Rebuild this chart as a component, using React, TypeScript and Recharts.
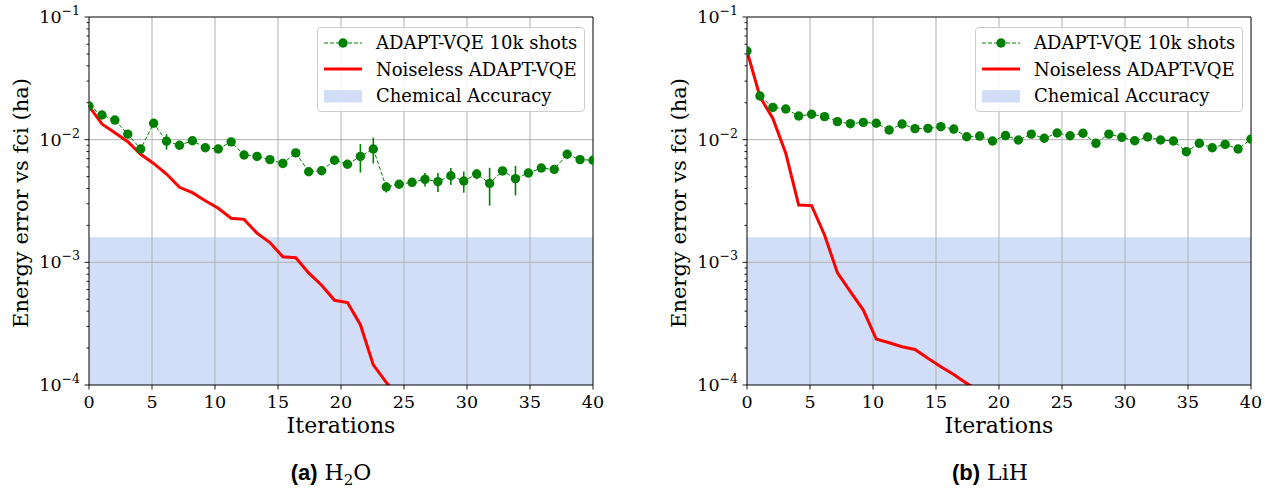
import React from "react";
import {
  ComposedChart,
  Line,
  XAxis,
  YAxis,
  ErrorBar,
  ReferenceArea,
  ReferenceLine,
  Legend,
} from "recharts";

// iteration index positions (40 evaluations spread over 0..40)
const iterations = Array.from({ length: 40 }, (_, i) => (i * 40) / 39);

const h2oShots = [
  0.0188, 0.0159, 0.01445, 0.0111, 0.0084, 0.0136, 0.0097, 0.009, 0.0098, 0.0086,
  0.0084, 0.0096, 0.0075, 0.0073, 0.00687, 0.0064, 0.0078, 0.00548, 0.00558, 0.0068,
  0.0063, 0.0073, 0.0084, 0.00411, 0.00433, 0.00449, 0.00475, 0.00455, 0.00508, 0.0046,
  0.00525, 0.0044, 0.00556, 0.00481, 0.00535, 0.00587, 0.00573, 0.0076, 0.00687, 0.0068,
];
const h2oShotsErr = [
  0.0004, 0.0004, 0.0004, 0.0003, 0.0004, 0.0005, 0.0014, 0.0003, 0.0004, 0.0003,
  0.0003, 0.0004, 0.0003, 0.0003, 0.0003, 0.0003, 0.0003, 0.0003, 0.0003, 0.0003,
  0.0003, 0.0019, 0.002, 0.0004, 0.0003, 0.0003, 0.0006, 0.0008, 0.0008, 0.0009,
  0.0005, 0.0015, 0.0003, 0.0013, 0.0004, 0.0003, 0.0003, 0.0003, 0.0003, 0.0003,
];
const h2oNoiseless = [
  0.0187, 0.01342, 0.0114, 0.00963, 0.0076, 0.0064, 0.00525, 0.00409, 0.0037, 0.00318,
  0.00276, 0.00229, 0.00224, 0.00173, 0.00145, 0.00111, 0.00109, 0.00082, 0.00065, 0.00049,
  0.00047, 0.00031, 0.000146, 0.000105, 0.00008,
];

const lihShots = [
  0.0528, 0.0227, 0.01835, 0.0178, 0.0156, 0.0161, 0.0154, 0.01403, 0.0135, 0.01384,
  0.0136, 0.012, 0.01342, 0.0123, 0.01237, 0.01276, 0.0122, 0.01057, 0.0107, 0.00976,
  0.0108, 0.00994, 0.0111, 0.01026, 0.01133, 0.01077, 0.01127, 0.00934, 0.0111, 0.01045,
  0.0098, 0.01052, 0.00994, 0.00976, 0.00798, 0.00934, 0.0086, 0.00916, 0.0084, 0.0101,
];
const lihShotsErr = [
  0.0006, 0.0005, 0.0004, 0.0004, 0.0004, 0.0004, 0.0004, 0.0004, 0.0004, 0.0004,
  0.0004, 0.0006, 0.0004, 0.0006, 0.0004, 0.0004, 0.0006, 0.0004, 0.0004, 0.0004,
  0.0004, 0.0004, 0.0004, 0.0004, 0.0004, 0.0004, 0.0004, 0.0004, 0.0004, 0.0004,
  0.0004, 0.0004, 0.0004, 0.0004, 0.0004, 0.0004, 0.0004, 0.0004, 0.0004, 0.0004,
];
const lihNoiseless = [
  0.0528, 0.0224, 0.0149, 0.00774, 0.00293, 0.0029, 0.00167, 0.00082, 0.000577, 0.000408,
  0.000237, 0.000221, 0.000205, 0.000195, 0.000165, 0.000141, 0.000122, 0.000103, 0.00009,
];

const chemicalAccuracy = 0.0016;
const xTicks = [0, 5, 10, 15, 20, 25, 30, 35, 40];
const xGrid = [5, 10, 15, 20, 25, 30, 35];
const yMajor = [1e-4, 1e-3, 1e-2, 1e-1];
const yTicks = [
  1e-4, 2e-4, 3e-4, 4e-4, 5e-4, 6e-4, 7e-4, 8e-4, 9e-4,
  1e-3, 2e-3, 3e-3, 4e-3, 5e-3, 6e-3, 7e-3, 8e-3, 9e-3,
  1e-2, 2e-2, 3e-2, 4e-2, 5e-2, 6e-2, 7e-2, 8e-2, 9e-2, 1e-1,
];
const seriesNames = ["ADAPT-VQE 10k shots", "Noiseless ADAPT-VQE", "Chemical Accuracy"];

const FONT = "'DejaVu Serif', serif";
const GREEN = "#008000";
const RED = "#ff0000";
const BAND = "#d2def7";
const GRID = "#b0b0b0";

const YTick = (props: any) => {
  const { x, y, payload } = props;
  const v = payload.value;
  const exp = Math.round(Math.log10(v));
  const major = yMajor.some((m) => Math.abs(m - v) / m < 1e-6);
  return (
    <g>
      <line x1={x - (major ? 4.5 : 2.5)} x2={x} y1={y} y2={y} stroke="#000" strokeWidth={0.9} />
      {major && (
        <text x={x - 9} y={y + 6} textAnchor="end" fontFamily={FONT} fontSize={17.5} fill="#000">
          10
          <tspan dy={-8} fontSize={12.5}>
            {"\u2212" + Math.abs(exp)}
          </tspan>
        </text>
      )}
    </g>
  );
};

const XTick = (props: any) => {
  const { x, y, payload } = props;
  return (
    <g>
      <line x1={x} x2={x} y1={y} y2={y + 4.5} stroke="#000" strokeWidth={0.9} />
      <text x={x} y={y + 23} textAnchor="middle" fontFamily={FONT} fontSize={17.5} fill="#000">
        {payload.value}
      </text>
    </g>
  );
};

const YLabel = () => (
  <text
    x={27.5}
    y={203}
    transform="rotate(-90, 27.5, 203)"
    textAnchor="middle"
    fontFamily={FONT}
    fontSize={21}
    fill="#000"
  >
    Energy error vs fci (ha)
  </text>
);

const XLabel = () => (
  <text x={341} y={433} textAnchor="middle" fontFamily={FONT} fontSize={22} fill="#000">
    Iterations
  </text>
);

const LegendBox = () => {
  const row: React.CSSProperties = { display: "flex", alignItems: "center", height: 26.7 };
  return (
    <div
      style={{
        width: 268,
        height: 85,
        boxSizing: "border-box",
        border: "1px solid #cccccc",
        borderRadius: 4,
        background: "rgba(255,255,255,0.85)",
        paddingTop: 1.5,
        paddingLeft: 6,
        fontFamily: FONT,
        fontSize: 18,
        color: "#000",
        whiteSpace: "nowrap",
      }}
    >
      <div style={row}>
        <svg width={38} height={20}>
          <line x1={0} x2={38} y1={10} y2={10} stroke={GREEN} strokeWidth={1} strokeDasharray="4 2" />
          <circle cx={19} cy={10} r={4.7} fill={GREEN} />
        </svg>
        <span style={{ marginLeft: 14 }}>{seriesNames[0]}</span>
      </div>
      <div style={row}>
        <svg width={38} height={20}>
          <line x1={0} x2={38} y1={10} y2={10} stroke={RED} strokeWidth={3} />
        </svg>
        <span style={{ marginLeft: 14 }}>{seriesNames[1]}</span>
      </div>
      <div style={row}>
        <svg width={38} height={20}>
          <rect x={0} y={4} width={38} height={12.4} fill={BAND} />
        </svg>
        <span style={{ marginLeft: 14 }}>{seriesNames[2]}</span>
      </div>
    </div>
  );
};

type PanelProps = {
  shots: number[];
  shotsErr: number[];
  noiseless: number[];
};

const Panel = ({ shots, shotsErr, noiseless }: PanelProps) => {
  const data = iterations.map((x, i) => ({
    x,
    shots: shots[i],
    err: shotsErr[i],
    noiseless: i < noiseless.length ? noiseless[i] : null,
  }));
  return (
    <ComposedChart width={610} height={440} data={data} margin={{ top: 17, right: 17, left: 0, bottom: 0 }}>
      <XAxis
        dataKey="x"
        type="number"
        domain={[0, 40]}
        ticks={xTicks}
        interval={0}
        height={55}
        tickSize={0}
        tickMargin={0}
        tickLine={false}
        tick={<XTick />}
        axisLine={{ stroke: "#000", strokeWidth: 1 }}
        label={<XLabel />}
        allowDataOverflow
      />
      <YAxis
        type="number"
        scale="log"
        domain={[1e-4, 1e-1]}
        ticks={yTicks}
        interval={0}
        width={89}
        tickSize={0}
        tickMargin={0}
        tickLine={false}
        tick={<YTick />}
        axisLine={{ stroke: "#000", strokeWidth: 1 }}
        label={<YLabel />}
        allowDataOverflow
      />
      <ReferenceArea y1={1e-4} y2={chemicalAccuracy} fill={BAND} fillOpacity={1} stroke="none" ifOverflow="hidden" />
      {xGrid.map((g) => (
        <ReferenceLine key={"gx" + g} x={g} stroke={GRID} strokeWidth={1} />
      ))}
      <ReferenceLine y={1e-3} stroke={GRID} strokeWidth={1} />
      <ReferenceLine y={1e-2} stroke={GRID} strokeWidth={1} />
      <ReferenceLine y={1e-1} stroke="#000" strokeWidth={1} />
      <ReferenceLine x={40} stroke="#000" strokeWidth={1} />
      <Line
        dataKey="shots"
        type="linear"
        stroke={GREEN}
        strokeWidth={1}
        strokeDasharray="4 2"
        dot={{ r: 4.7, fill: GREEN, stroke: GREEN, strokeWidth: 0, strokeDasharray: "" }}
        activeDot={false}
        isAnimationActive={false}
      >
        <ErrorBar dataKey="err" direction="y" width={0} stroke={GREEN} strokeWidth={1.6} isAnimationActive={false} />
      </Line>
      <Line
        dataKey="noiseless"
        type="linear"
        stroke={RED}
        strokeWidth={3}
        dot={false}
        activeDot={false}
        isAnimationActive={false}
      />
      <Legend
        layout="vertical"
        verticalAlign="middle"
        align="center"
        content={<LegendBox />}
        wrapperStyle={{ left: 317, top: 26.7, width: 268, height: 85 }}
      />
    </ComposedChart>
  );
};

const captionStyle: React.CSSProperties = {
  position: "absolute",
  top: 459,
  width: 300,
  textAlign: "center",
  fontSize: 22,
  lineHeight: "28px",
  color: "#000",
};

export default function App() {
  return (
    <div
      style={{
        position: "absolute",
        left: 0,
        top: 0,
        width: 1265,
        height: 488,
        overflow: "hidden",
        background: "#fff",
      }}
    >
      <div style={{ position: "absolute", left: 0, top: 0 }}>
        <Panel shots={h2oShots} shotsErr={h2oShotsErr} noiseless={h2oNoiseless} />
      </div>
      <div style={{ position: "absolute", left: 658, top: 0 }}>
        <Panel shots={lihShots} shotsErr={lihShotsErr} noiseless={lihNoiseless} />
      </div>
      <div style={{ ...captionStyle, left: 181 }}>
        <span style={{ fontFamily: "'Liberation Sans', Arial, sans-serif", fontWeight: "bold" }}>(a)</span>
        <span style={{ fontFamily: FONT }}>
          {" "}H<sub style={{ fontSize: 15, lineHeight: 0 }}>2</sub>O
        </span>
      </div>
      <div style={{ ...captionStyle, left: 840 }}>
        <span style={{ fontFamily: "'Liberation Sans', Arial, sans-serif", fontWeight: "bold" }}>(b)</span>
        <span style={{ fontFamily: FONT }}> LiH</span>
      </div>
    </div>
  );
}
